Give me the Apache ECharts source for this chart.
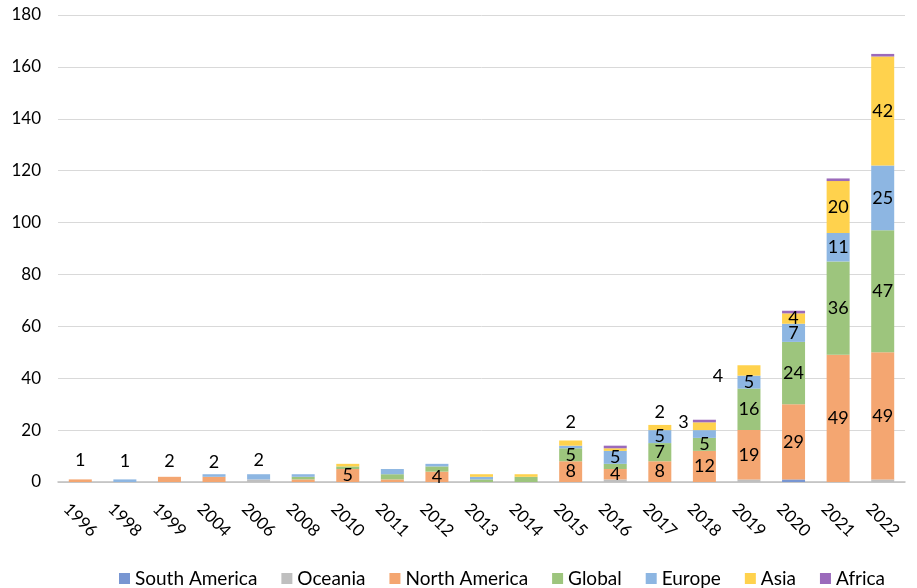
<!DOCTYPE html>
<html>
<head>
<meta charset="utf-8">
<script src="https://cdn.jsdelivr.net/npm/echarts@6/dist/echarts.min.js"></script>
<style>
  html, body { margin: 0; padding: 0; background: #fff; }
  #chart { width: 917px; height: 588px; }
</style>
</head>
<body>
<div id="chart"></div>
<script>
// Publication years (categories)
const years = ['1996','1998','1999','2004','2006','2008','2010','2011','2012','2013','2014','2015','2016','2017','2018','2019','2020','2021','2022'];

// Counts per region, stacked bottom to top
const southAmerica = [0,0,0,0,0,0,0,0,0,0,0,0,0,0,0,0,1,0,0];
const oceania      = [0,0,0,0,1,0,0,0,0,0,0,0,1,0,0,1,0,0,1];
const northAmerica = [1,0,2,2,0,1,5,1,4,0,0,8,4,8,12,19,29,49,49];
const global       = [0,0,0,0,0,1,1,2,2,1,2,5,2,7,5,16,24,36,47];
const europe       = [0,1,0,1,2,1,0,2,1,1,0,1,5,5,3,5,7,11,25];
const asia         = [0,0,0,0,0,0,1,0,0,1,1,2,1,2,3,4,4,20,42];
const africa       = [0,0,0,0,0,0,0,0,0,0,0,0,1,0,1,0,1,1,1];

// Y-axis ticks
const yTicks = { min: 0, max: 180, step: 20 };

const seriesDefs = [
  { name: 'South America', data: southAmerica, color: '#7896D2' },
  { name: 'Oceania',       data: oceania,      color: '#BFBFBF' },
  { name: 'North America', data: northAmerica, color: '#F4A671' },
  { name: 'Global',        data: global,       color: '#9DC57D' },
  { name: 'Europe',        data: europe,       color: '#8DB6E2' },
  { name: 'Asia',          data: asia,         color: '#FFD24D' },
  { name: 'Africa',        data: africa,       color: '#9B6ABB' }
];

// Small segments whose value label sits outside the bar (label placement only)
const outsideLabels = [
  { series: 'North America', year: '1996', dx: 0,   dy: -5 },
  { series: 'Europe',        year: '1998', dx: 0,   dy: -4 },
  { series: 'North America', year: '1999', dx: 0,   dy: -2 },
  { series: 'North America', year: '2004', dx: 0,   dy: -1 },
  { series: 'Europe',        year: '2006', dx: 0,   dy: 0 },
  { series: 'Asia',          year: '2015', dx: 0,   dy: -4 },
  { series: 'Asia',          year: '2017', dx: 0,   dy: 1 },
  { series: 'Asia',          year: '2018', dx: -21, dy: 14 },
  { series: 'Asia',          year: '2019', dx: -31, dy: 25 }
];

const FONT = 'Lato, "Open Sans", sans-serif';

const series = seriesDefs.map(def => ({
  name: def.name,
  type: 'bar',
  stack: 'total',
  barWidth: 23,
  itemStyle: { color: def.color },
  emphasis: { disabled: true },
  data: def.data.map((v, i) => {
    const tweak = outsideLabels.find(o => o.series === def.name && o.year === years[i]);
    if (tweak) {
      return {
        value: v,
        label: { show: true, position: 'top', distance: 5, offset: [tweak.dx, tweak.dy] }
      };
    }
    return { value: v, label: { show: v >= 4, position: 'inside' } };
  }),
  label: {
    fontFamily: FONT,
    fontSize: 18,
    color: '#000'
  }
}));

const chart = echarts.init(document.getElementById('chart'), null, { renderer: 'canvas' });
chart.setOption({
  animation: false,
  backgroundColor: '#fff',
  textStyle: { fontFamily: FONT },
  grid: { left: 58, right: 12, top: 15, bottom: 106, containLabel: false },
  legend: {
    bottom: 0,
    left: 119,
    padding: 0,
    itemWidth: 11,
    itemHeight: 11,
    itemGap: 24,
    icon: 'rect',
    textStyle: { fontFamily: FONT, fontSize: 19, color: '#000' },
    data: seriesDefs.map(d => d.name)
  },
  xAxis: {
    type: 'category',
    data: years,
    axisTick: { show: false },
    axisLine: { lineStyle: { color: '#BFBFBF', width: 1.5 } },
    axisLabel: {
      rotate: -45,
      align: 'center',
      verticalAlign: 'middle',
      margin: 38,
      fontFamily: FONT,
      fontSize: 17,
      color: '#000'
    }
  },
  yAxis: {
    type: 'value',
    min: yTicks.min,
    max: yTicks.max,
    interval: yTicks.step,
    axisLine: { show: false },
    axisTick: { show: false },
    splitLine: { lineStyle: { color: '#D9D9D9', width: 1 } },
    axisLabel: { fontFamily: FONT, fontSize: 17, color: '#000', margin: 17 }
  },
  series: series
});
</script>
</body>
</html>
